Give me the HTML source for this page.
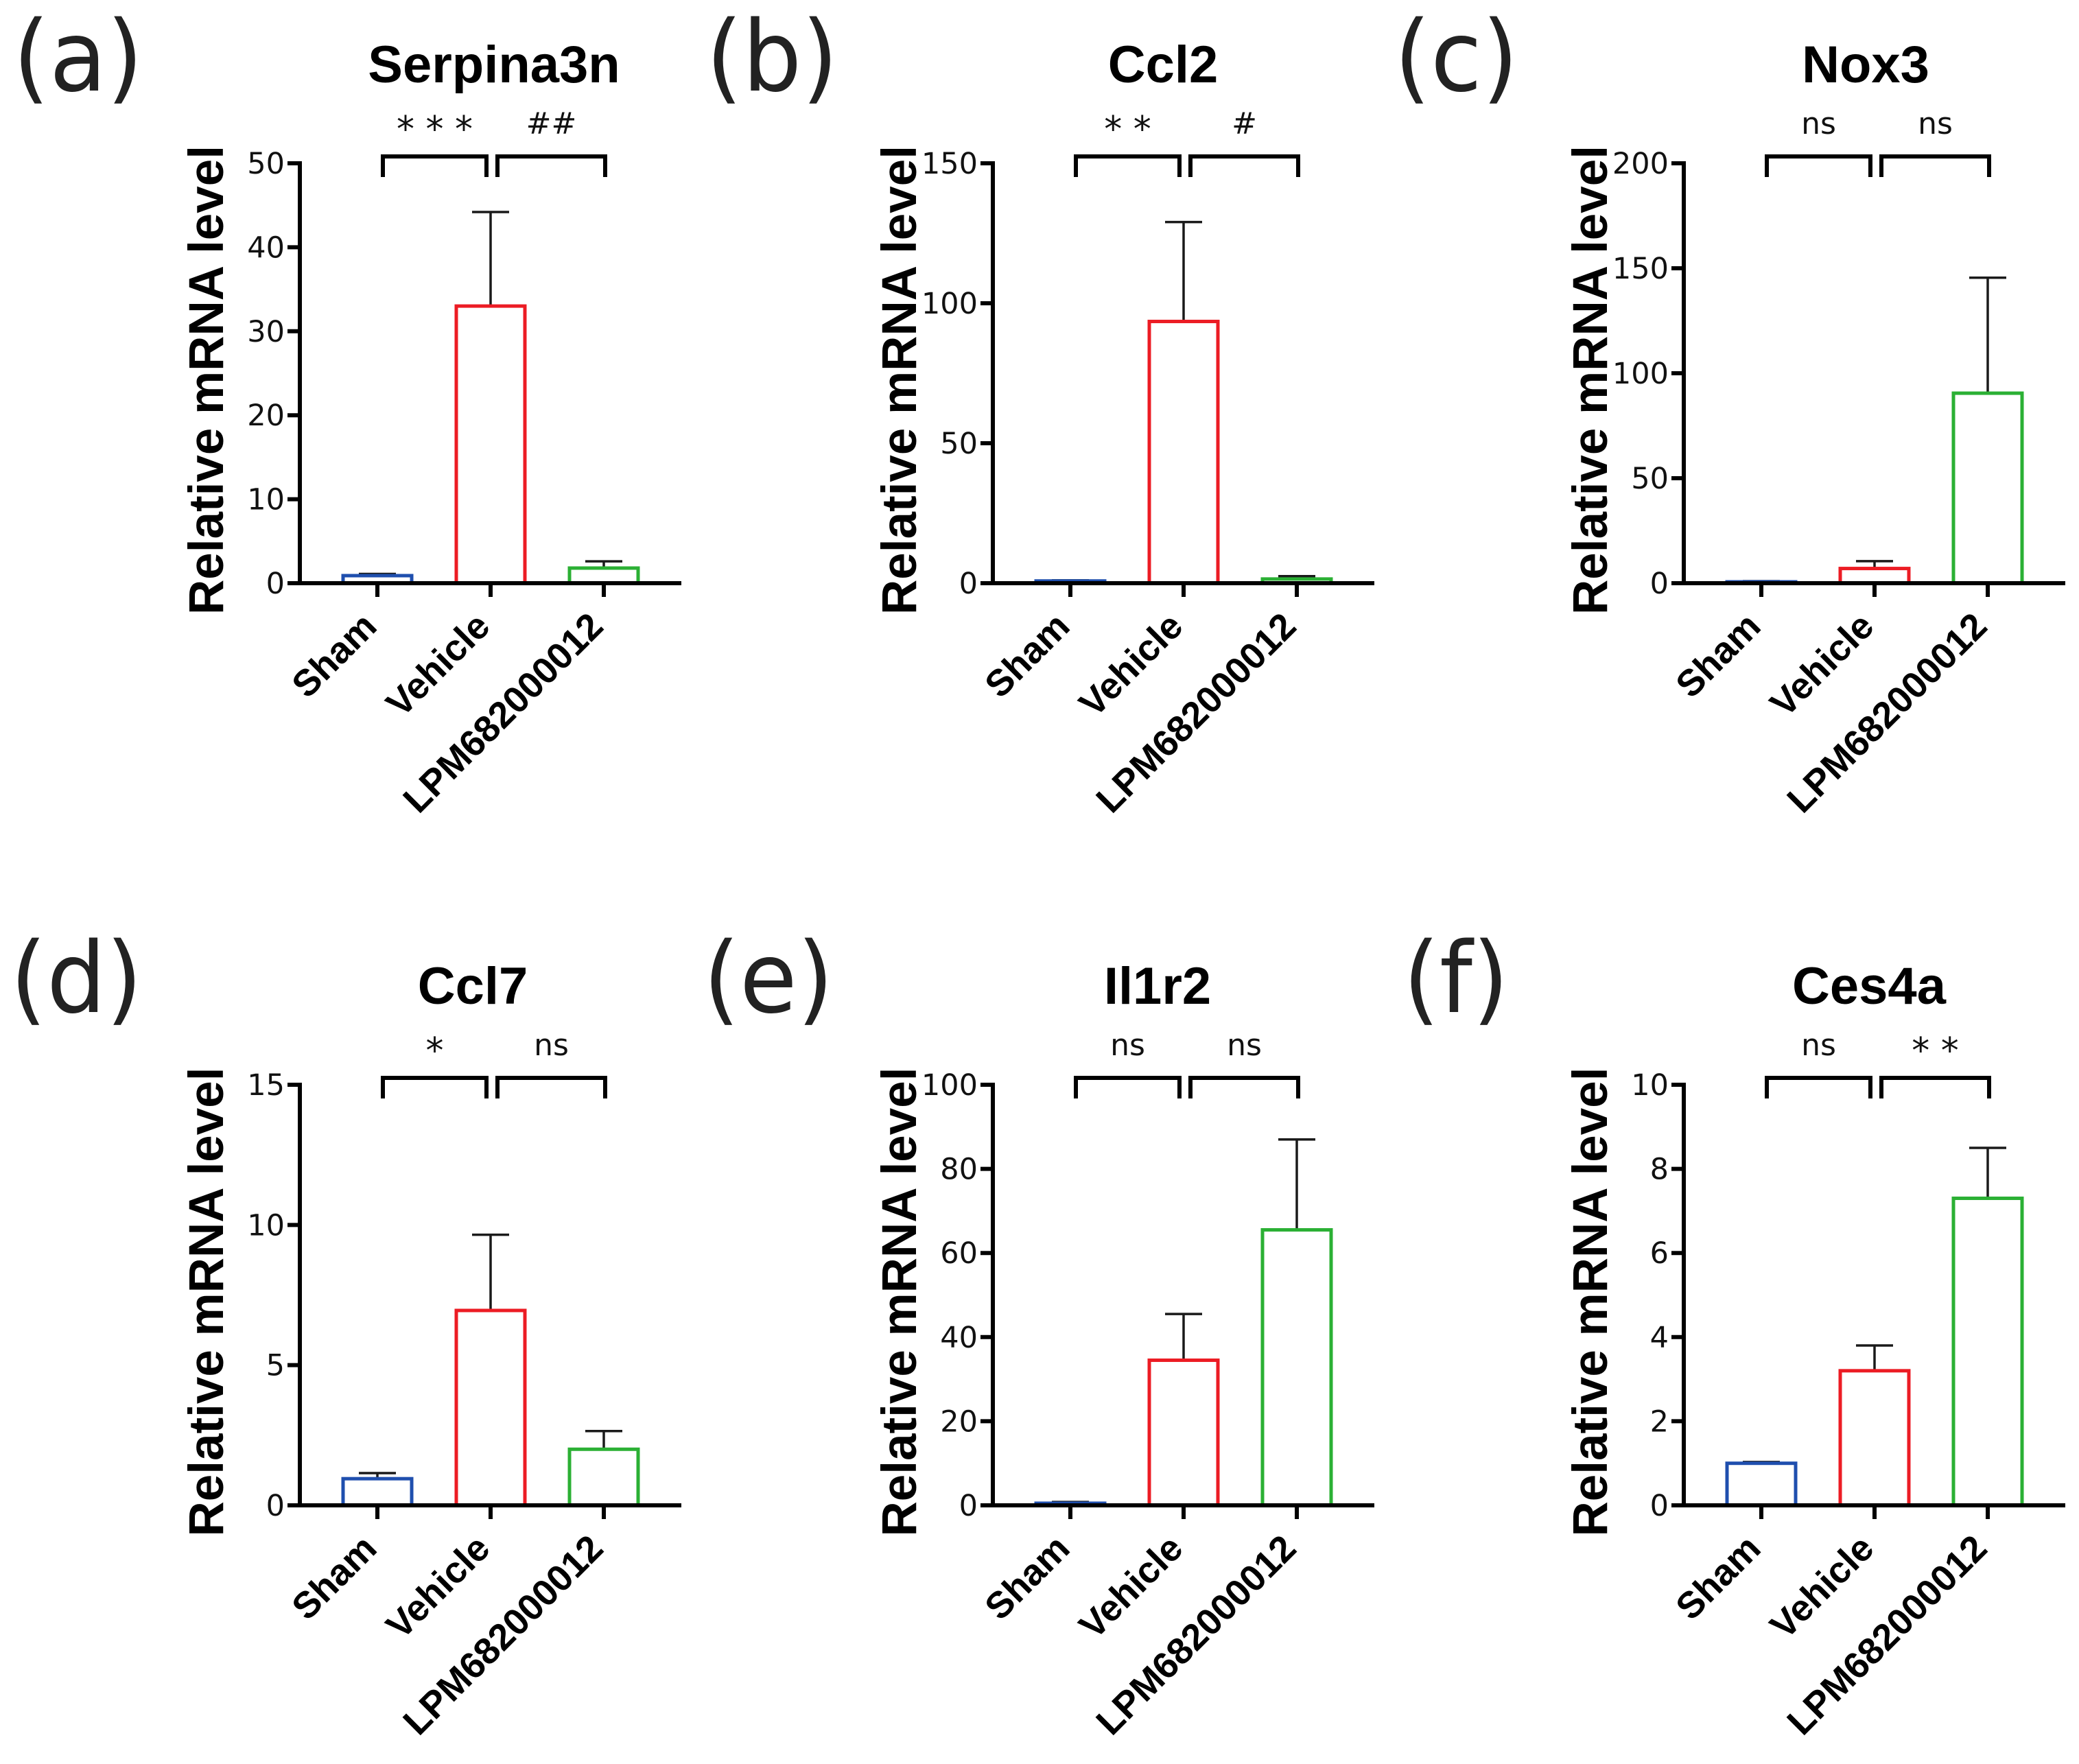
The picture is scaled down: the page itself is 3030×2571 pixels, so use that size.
<!DOCTYPE html>
<html><head><meta charset="utf-8">
<style>
html,body{margin:0;padding:0;background:#fff;}
svg{display:block;}
</style></head>
<body>
<svg id="fig" width="3030" height="2571" viewBox="0 0 3030 2571" xmlns="http://www.w3.org/2000/svg"></svg>
<script>
const NS='http://www.w3.org/2000/svg';
const categories=['Sham','Vehicle','LPM682000012'];
const colors=['#1f4fae','#ec1c24','#2bb034'];
const panelLetters=['(a)','(b)','(c)','(d)','(e)','(f)'];
const genes=['Serpina3n','Ccl2','Nox3','Ccl7','Il1r2','Ces4a'];
const yMax=[50,150,200,15,100,10];
const tickStep=[10,50,50,5,20,2];
const meanA=[0.9,33,1.8];   const errA=[1.1,44.2,2.6];
const meanB=[0.8,93.5,1.5]; const errB=[1.0,129,2.5];
const meanC=[0.5,7,90.5];   const errC=[1.0,10.5,145.5];
const meanD=[0.95,6.95,2.0]; const errD=[1.15,9.65,2.65];
const meanE=[0.5,34.5,65.5]; const errE=[0.8,45.5,87];
const meanF=[1.0,3.2,7.3];  const errF=[1.03,3.8,8.5];
const sigLeft=['* * *','* *','ns','*','ns','ns'];
const sigRight=['##','#','ns','ns','ns','* *'];
const means=[meanA,meanB,meanC,meanD,meanE,meanF];
const errs=[errA,errB,errC,errD,errE,errF];

const svg=document.getElementById('fig');
function mk(tag,attrs,parent,text){
  const e=document.createElementNS(NS,tag);
  for(const k in attrs)e.setAttribute(k,attrs[k]);
  if(text!==undefined)e.textContent=text;
  (parent||svg).appendChild(e);return e;
}
const colX=[437,1447,2454];
const rowTop=[238,1581];
const rowZero=[850,2194];
const titleX=[720,1695,2719,689,1687,2724];
const letterX=[19,1029,2032,15,1025,2045];

for(let p=0;p<6;p++){
  const r=Math.floor(p/3), c=p%3;
  const ax=colX[c], top=rowTop[r], zero=rowZero[r];
  const g=mk('g',{});
  
  
  const yS=v=>zero-(v/yMax[p])*(zero-top);
  const xS=i=>ax+113+i*165;
  const ly=top-106;
  const pl=mk('text',{x:letterX[p],y:ly,'font-family':'DejaVu Sans, sans-serif','font-size':136,fill:'#222',transform:`translate(${letterX[p]},${ly}) scale(1,1.05) translate(${-letterX[p]},${-ly})`},g,panelLetters[p]);
  
  
  const t=mk('text',{x:titleX[p],y:top-118,'text-anchor':'middle','font-family':'Liberation Sans, sans-serif','font-weight':'bold','font-size':76},g,genes[p]);
  
  
  const yt=mk('text',{x:0,y:0,transform:`translate(${ax-112},${(top+zero)/2+10}) rotate(-90)`,'text-anchor':'middle','font-family':'Liberation Sans, sans-serif','font-weight':'bold','font-size':71},g,'Relative mRNA level');
  
  
  for(let i=0;i<3;i++){
    const cx=xS(i), m=means[p][i], e=errs[p][i];
    const eb=mk('g',{stroke:'#1a1a1a','stroke-width':3.5},g);
    
    
    mk('line',{x1:cx,x2:cx,y1:yS(m),y2:yS(e)},eb);
    mk('line',{x1:cx-27,x2:cx+27,y1:yS(e),y2:yS(e)},eb);
    const h=Math.max(zero-yS(m),2);
    const b=mk('rect',{x:cx-50,y:zero-h,width:100,height:h,fill:'#fff',stroke:colors[i],'stroke-width':5},g);
    
    
  }
  const ya=mk('g',{stroke:'#000','stroke-width':6},g);
  
  
  mk('line',{x1:ax,x2:ax,y1:top-3,y2:zero+3},ya);
  for(let v=0;v<=yMax[p]+1e-9;v+=tickStep[p]){
    mk('line',{x1:ax-18,x2:ax,y1:yS(v),y2:yS(v)},ya);
    const tl=mk('text',{x:ax-22,y:yS(v)+15,'text-anchor':'end','font-family':'DejaVu Sans, sans-serif','font-size':43,fill:'#111',stroke:'none'},g,String(v));
    
    
  }
  const xa=mk('g',{stroke:'#000','stroke-width':6},g);
  
  
  mk('line',{x1:ax-18,x2:ax+556,y1:zero,y2:zero},xa);
  for(let i=0;i<3;i++){
    mk('line',{x1:xS(i),x2:xS(i),y1:zero,y2:zero+20},xa);
    const xl=mk('text',{x:0,y:0,transform:`translate(${xS(i)+2},${zero+66}) rotate(-45)`,'text-anchor':'end','font-family':'Liberation Sans, sans-serif','font-weight':'bold','font-size':54},g,categories[i]);
    
    
  }
  const by=top-10;
  const brs=[[xS(0)+8,xS(1)-6,sigLeft[p]],[xS(1)+10,xS(2)+2,sigRight[p]]];
  brs.forEach((bb,k)=>{
    const br=mk('path',{d:`M${bb[0]},${by+30}V${by}H${bb[1]}V${by+30}`,fill:'none',stroke:'#000','stroke-width':6},g);
    
    
    const isStar=bb[2].indexOf('*')>=0;
    const st=mk('text',{x:(bb[0]+bb[1])/2,y:isStar?by-22:by-33,'text-anchor':'middle','font-family':'DejaVu Sans, sans-serif','font-size':isStar?52:44,fill:'#111'},g,bb[2]);
    
    
  });
}
</script>
</body></html>
